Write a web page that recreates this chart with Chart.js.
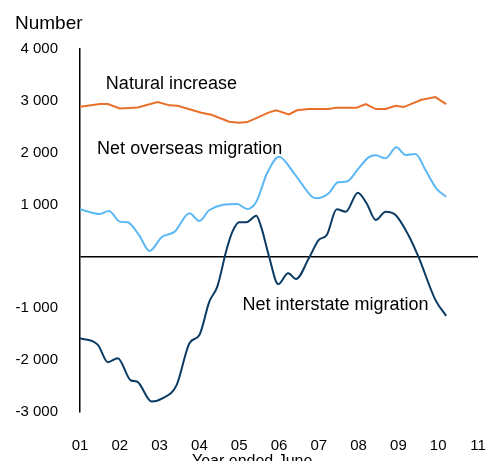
<!DOCTYPE html>
<html>
<head>
<meta charset="utf-8">
<script src="https://cdn.jsdelivr.net/npm/chart.js@4/dist/chart.umd.min.js"></script>
<style>
  html, body { margin: 0; padding: 0; background: #fff; }
  #wrap { width: 486px; height: 461px; }
</style>
</head>
<body>
<div id="wrap"><canvas id="chart"></canvas></div>
<script>
// --- Data (years ended June) ---
const naturalYears = [2001.00, 2001.50, 2001.70, 2002.00, 2002.45, 2002.95, 2003.25, 2003.45, 2004.05, 2004.30,
  2004.75, 2005.00, 2005.20, 2005.43, 2005.75, 2005.93, 2006.25, 2006.45, 2006.75, 2007.25, 2007.43, 2007.95,
  2008.18, 2008.43, 2008.68, 2008.93, 2009.13, 2009.58, 2009.93, 2010.20];
const naturalValues = [2886, 2938, 2938, 2855, 2873, 2977, 2913, 2907, 2771, 2733,
  2597, 2578, 2590, 2668, 2778, 2817, 2740, 2817, 2842, 2842, 2867, 2867,
  2938, 2842, 2842, 2906, 2880, 3021, 3073, 2938];

const overseasYears = [2001.00, 2001.50, 2001.73, 2002.00, 2002.20, 2002.48, 2002.75, 2003.05, 2003.38, 2003.75,
  2004.00, 2004.25, 2004.95, 2005.20, 2005.43, 2005.70, 2006.00, 2006.38, 2006.83, 2006.95, 2007.25, 2007.48,
  2007.70, 2008.00, 2008.25, 2008.43, 2008.68, 2008.95, 2009.18, 2009.43, 2009.68, 2009.95, 2010.20];
const overseasValues = [909, 819, 877, 671, 660, 414, 106, 370, 478, 832,
  684, 896, 1012, 915, 1056, 1603, 1923, 1603, 1152, 1121, 1218, 1430,
  1443, 1699, 1911, 1950, 1892, 2104, 1956, 1975, 1667, 1314, 1152];

const interstateYears = [2001.00, 2001.45, 2001.70, 2001.95, 2002.28, 2002.43, 2002.80, 2003.08, 2003.43, 2003.75,
  2004.00, 2004.25, 2004.45, 2004.68, 2004.83, 2005.00, 2005.18, 2005.43, 2005.55, 2005.75, 2005.98, 2006.23,
  2006.43, 2006.75, 2007.00, 2007.20, 2007.45, 2007.68, 2007.98, 2008.20, 2008.43, 2008.68, 2008.93, 2009.25,
  2009.50, 2009.93, 2010.20];
const interstateValues = [-1576, -1705, -2039, -1962, -2393, -2412, -2798, -2733, -2476, -1672,
  -1513, -870, -582, 125, 478, 659, 659, 786, 574, 0, -536, -324,
  -434, -35, 318, 414, 909, 863, 1229, 1025, 703, 863, 800, 414,
  0, -838, -1146];

const xTickLabels = ['01', '02', '03', '04', '05', '06', '07', '08', '09', '10', '11'];

// Series names written on the plot, anchored in data units (year, value) at the text baseline
const seriesLabels = [
  { text: 'Natural increase', year: 2001.65, value: 3223 },
  { text: 'Net overseas migration', year: 2001.43, value: 1976 },
  { text: 'Net interstate migration', year: 2005.08, value: -1032 }
];

const FONT = '"Liberation Sans", Arial, sans-serif';

function toPoints(xs, ys) {
  return xs.map((x, i) => ({ x, y: ys[i] }));
}

function formatThousands(v) {
  const s = Math.abs(v).toString().replace(/\B(?=(\d{3})+(?!\d))/g, ' ');
  return v < 0 ? '-' + s : s;
}

const textPlugin = {
  id: 'chartText',
  afterDraw(chart) {
    const { ctx, scales: { x, y } } = chart;
    ctx.save();
    ctx.fillStyle = '#000';
    ctx.textAlign = 'left';
    ctx.textBaseline = 'alphabetic';
    ctx.font = '18px ' + FONT;
    seriesLabels.forEach(l => {
      ctx.fillText(l.text, x.getPixelForValue(l.year), y.getPixelForValue(l.value));
    });
    ctx.font = '19px ' + FONT;
    ctx.fillText('Number', 15, 29);
    ctx.font = '16px ' + FONT;
    ctx.fillText('Year ended June', 192, 466);
    ctx.restore();
  }
};

const lineStyle = {
  borderWidth: 2,
  pointRadius: 0,
  fill: false
};

new Chart(document.getElementById('chart'), {
  type: 'line',
  data: {
    datasets: [
      { ...lineStyle, label: 'Natural increase', data: toPoints(naturalYears, naturalValues),
        borderColor: '#E8702A', tension: 0 },
      { ...lineStyle, label: 'Net overseas migration', data: toPoints(overseasYears, overseasValues),
        borderColor: '#5CB8F4', cubicInterpolationMode: 'monotone' },
      { ...lineStyle, label: 'Net interstate migration', data: toPoints(interstateYears, interstateValues),
        borderColor: '#0B3B63', cubicInterpolationMode: 'monotone' }
    ]
  },
  options: {
    responsive: true,
    maintainAspectRatio: false,
    animation: false,
    layout: { padding: { top: 49, right: 8, left: 0, bottom: 0 } },
    plugins: {
      legend: { display: false },
      tooltip: { enabled: false }
    },
    scales: {
      x: {
        type: 'linear',
        min: 2001,
        max: 2011,
        afterFit: s => {
          s.height = 49;
          s.paddingLeft = 0;
          s.paddingRight = 0;
        },
        grid: { display: false, drawTicks: false },
        border: { display: false },
        ticks: {
          stepSize: 1,
          padding: 25,
          autoSkip: false,
          maxRotation: 0,
          color: '#000',
          font: { size: 15, family: FONT },
          callback: v => xTickLabels[Math.round(v) - 2001]
        }
      },
      y: {
        min: -3000,
        max: 4000,
        afterFit: s => { s.width = 80; },
        grid: {
          drawTicks: false,
          lineWidth: 1.5,
          color: c => (c.tick && c.tick.value === 0 ? '#000' : 'rgba(0,0,0,0)')
        },
        border: { display: true, color: '#000', width: 1.5 },
        ticks: {
          stepSize: 1000,
          padding: 22,
          color: '#000',
          font: { size: 15, family: FONT },
          callback: v => (v === 0 ? '' : formatThousands(v))
        }
      }
    }
  },
  plugins: [textPlugin]
});
</script>
</body>
</html>
